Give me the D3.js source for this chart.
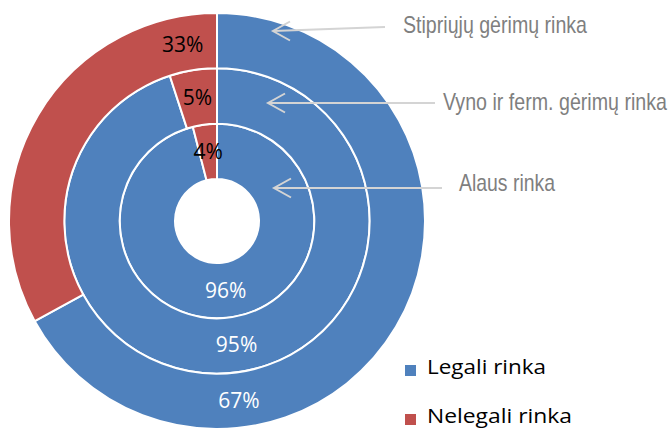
<!DOCTYPE html>
<html>
<head>
<meta charset="utf-8">
<script src="https://cdn.jsdelivr.net/npm/d3@7"></script>
<style>
  body { margin: 0; background: #fff; }
  svg { display: block; }
</style>
</head>
<body>
<div id="chart"></div>
<script>
// rinkos (nuo vidinio žiedo į išorę)
const rings = ["Alaus rinka", "Vyno ir ferm. gėrimų rinka", "Stipriųjų gėrimų rinka"];
const categories = ["Legali rinka", "Nelegali rinka"];
const legal = [96, 95, 67];
const illegal = [4, 5, 33];
const colors = ["#4F81BD", "#C0504D"];
const labelColors = ["#fff", "#000"];

const width = 671, height = 428;
const cx = 217, cy = 221;

const svg = d3.select("#chart").append("svg")
  .attr("width", width)
  .attr("height", height);

const g = svg.append("g").attr("transform", `translate(${cx},${cy})`);

// žiedų spinduliai
const radius = d3.scaleLinear().domain([0, rings.length]).range([42, 208]);
const color = d3.scaleOrdinal().domain(categories).range(colors);

const pie = d3.pie().sort(null).value(d => d.value);

rings.forEach((ring, i) => {
  const data = [
    { cat: categories[0], value: legal[i] },
    { cat: categories[1], value: illegal[i] }
  ];
  const arcs = pie(data);
  const arc = d3.arc().innerRadius(radius(i)).outerRadius(radius(i + 1));

  g.append("g").selectAll("path")
    .data(arcs)
    .join("path")
    .attr("d", arc)
    .attr("fill", d => color(d.data.cat))
    .attr("stroke", "#fff")
    .attr("stroke-width", 2);

  // išorinio žiedo etiketės Excel'yje perkeltos arčiau viršaus/apačios
  const rMid = (radius(i) + radius(i + 1)) / 2;
  g.append("g").selectAll("text")
    .data(arcs)
    .join("text")
    .attr("transform", (d, j) => {
      let a = (d.startAngle + d.endAngle) / 2;
      if (i === rings.length - 1) a = (j === 0 ? 173 : -11) * Math.PI / 180;
      return `translate(${rMid * Math.sin(a)},${-rMid * Math.cos(a)})`;
    })
    .attr("text-anchor", "middle")
    .attr("dy", "0.36em")
    .attr("font-family", "'Open Sans', sans-serif")
    .attr("font-size", 21)
    .attr("fill", (d, j) => labelColors[j])
    .text(d => d.data.value + "%");
});

// rodyklės su žiedų pavadinimais
const notes = [
  { text: rings[2], tx: 403, ty: 33, w: 184, x1: 385, y1: 27, x2: 273, y2: 31 },
  { text: rings[1], tx: 443, ty: 110, w: 224, x1: 435, y1: 103, x2: 268, y2: 103 },
  { text: rings[0], tx: 459, ty: 191, w: 96, x1: 442, y1: 188, x2: 274, y2: 188 }
];
const ann = svg.append("g");
notes.forEach(n => {
  ann.append("line")
    .attr("x1", n.x1).attr("y1", n.y1).attr("x2", n.x2).attr("y2", n.y2)
    .attr("stroke", "#d4d4d4").attr("stroke-width", 2);
  ann.append("path")
    .attr("d", `M${n.x2 + 17},${n.y2 - 9.5}L${n.x2},${n.y2}L${n.x2 + 17},${n.y2 + 9.5}`)
    .attr("fill", "none").attr("stroke", "#d4d4d4").attr("stroke-width", 2);
  ann.append("text")
    .attr("x", n.tx).attr("y", n.ty)
    .attr("font-family", "'Liberation Sans', Arial, sans-serif")
    .attr("font-size", 24)
    .attr("textLength", n.w)
    .attr("lengthAdjust", "spacingAndGlyphs")
    .attr("fill", "#7f7f7f")
    .text(n.text);
});

// legenda
const legendW = [119, 145];
const legend = svg.append("g").attr("transform", "translate(405,365)");
const item = legend.selectAll("g")
  .data(categories)
  .join("g")
  .attr("transform", (d, i) => `translate(0,${i * 49})`);
item.append("rect")
  .attr("width", 11).attr("height", 11)
  .attr("fill", d => color(d));
item.append("text")
  .attr("x", 22).attr("y", 8.5)
  .attr("font-family", "'Open Sans', sans-serif")
  .attr("font-size", 20)
  .attr("textLength", (d, i) => legendW[i])
  .attr("lengthAdjust", "spacingAndGlyphs")
  .attr("fill", "#000")
  .text(d => d);
</script>
</body>
</html>
